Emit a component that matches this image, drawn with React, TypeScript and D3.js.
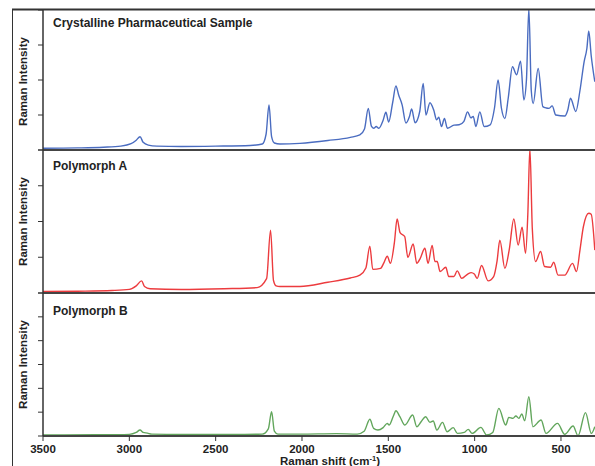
import React from "react";
import * as d3 from "d3";

// ---------- data (wavenumber cm-1, intensity in panel tick units) ----------
const panelTitles = ["Crystalline Pharmaceutical Sample", "Polymorph A", "Polymorph B"];
const xTickValues = [3500, 3000, 2500, 2000, 1500, 1000, 500];

const crystallineSample: [number, number][] = [
  [3500, 0.05], [3300, 0.06], [3150, 0.08], [3050, 0.11], [2990, 0.18], [2960, 0.28], [2938, 0.38],
  [2920, 0.22], [2890, 0.14], [2840, 0.11], [2700, 0.1], [2500, 0.11], [2300, 0.13], [2230, 0.17],
  [2208, 0.45], [2191, 1.29], [2176, 0.38], [2160, 0.2], [2128, 0.17], [2012, 0.19], [1850, 0.27],
  [1720, 0.36], [1665, 0.43], [1638, 0.6], [1616, 1.19], [1598, 0.68], [1585, 0.62], [1570, 0.67],
  [1555, 0.62], [1530, 0.85], [1514, 1.08], [1498, 0.8], [1475, 1.35], [1456, 1.83], [1440, 1.57],
  [1420, 1.29], [1398, 0.77], [1378, 0.95], [1365, 1.17], [1345, 0.78], [1318, 1.1], [1298, 1.9],
  [1282, 1.0], [1259, 1.35], [1237, 1.14], [1220, 0.86], [1208, 0.94], [1192, 0.67], [1175, 0.9],
  [1158, 0.62], [1120, 0.71], [1090, 0.72], [1062, 0.82], [1041, 1.09], [1022, 0.92], [1008, 0.96],
  [993, 0.67], [970, 1.09], [945, 0.67], [910, 0.72], [885, 1.2], [864, 2.0], [845, 1.2], [825, 0.9],
  [805, 1.5], [781, 2.38], [757, 2.15], [734, 2.54], [715, 1.43], [700, 2.0], [686, 4.05], [672, 1.7],
  [661, 1.33], [632, 2.33], [605, 1.24], [585, 1.2], [569, 1.19], [551, 1.26], [530, 1.0], [478, 0.97],
  [460, 1.15], [445, 1.48], [414, 1.1], [390, 1.7], [366, 2.52], [350, 2.9], [339, 3.4], [325, 2.7],
  [304, 1.95],
];

const polymorphA: [number, number][] = [
  [3500, 0.04], [3300, 0.05], [3100, 0.07], [3000, 0.1], [2960, 0.2], [2929, 0.34], [2912, 0.18],
  [2880, 0.12], [2700, 0.1], [2450, 0.12], [2260, 0.15], [2205, 0.4], [2182, 1.76], [2165, 0.35],
  [2150, 0.2], [2128, 0.18], [2012, 0.18], [1850, 0.3], [1720, 0.42], [1665, 0.5], [1630, 0.7],
  [1607, 1.31], [1590, 0.66], [1545, 0.69], [1525, 0.85], [1506, 1.03], [1488, 0.83], [1465, 1.4],
  [1449, 2.07], [1432, 1.69], [1405, 1.58], [1387, 1.0], [1356, 1.37], [1335, 0.83], [1315, 0.97],
  [1288, 1.25], [1270, 0.83], [1246, 1.33], [1230, 0.88], [1217, 0.88], [1200, 0.6], [1167, 0.72],
  [1150, 0.46], [1120, 0.46], [1101, 0.62], [1075, 0.41], [1040, 0.53], [1020, 0.57], [1002, 0.53],
  [985, 0.41], [960, 0.77], [922, 0.34], [890, 0.46], [870, 0.9], [854, 1.48], [825, 0.69], [800, 1.2],
  [773, 2.07], [748, 1.34], [725, 1.84], [705, 1.11], [692, 2.2], [680, 4.05], [666, 1.8], [647, 0.88],
  [618, 1.16], [595, 0.74], [560, 0.72], [542, 0.86], [517, 0.5], [478, 0.5], [433, 0.83], [410, 0.6],
  [390, 1.2], [370, 1.86], [339, 2.23], [325, 2.2], [304, 1.2],
];

const polymorphB: [number, number][] = [
  [3500, 0.04], [3200, 0.05], [3000, 0.07], [2960, 0.15], [2938, 0.25], [2920, 0.15], [2895, 0.12],
  [2870, 0.08], [2700, 0.06], [2400, 0.06], [2230, 0.08], [2195, 0.3], [2176, 1.02], [2160, 0.2],
  [2140, 0.08], [2012, 0.08], [1800, 0.1], [1680, 0.08], [1640, 0.2], [1607, 0.7], [1585, 0.32],
  [1560, 0.25], [1530, 0.35], [1506, 0.53], [1495, 0.46], [1470, 0.85], [1456, 1.06], [1433, 0.81],
  [1404, 0.46], [1359, 0.88], [1335, 0.39], [1310, 0.6], [1284, 0.81], [1259, 0.57], [1240, 0.63],
  [1219, 0.25], [1186, 0.57], [1160, 0.18], [1124, 0.35], [1100, 0.11], [1060, 0.15], [1037, 0.28],
  [1015, 0.11], [964, 0.36], [930, 0.04], [895, 0.15], [860, 1.16], [820, 0.46], [802, 0.78],
  [778, 0.74], [761, 0.84], [744, 0.74], [727, 0.92], [710, 0.64], [686, 1.65], [663, 0.39],
  [615, 0.67], [587, 0.11], [520, 0.53], [478, 0.07], [430, 0.42], [401, 0.01], [358, 0.98],
  [324, 0.11], [304, 0.39],
];

const seriesList = [crystallineSample, polymorphA, polymorphB];
const seriesColors = ["#4a6cc0", "#ec3b3e", "#62a65c"];

// ---------- layout ----------
const W = 595;
const H = 466;
const X0 = 43;
const X1 = 595.5;
const panels = [
  { top: 10, bottom: 150, yMax: 4 },
  { top: 150, bottom: 293, yMax: 4 },
  { top: 293, bottom: 436, yMax: 6 },
];
const FONT = "'Liberation Sans', Arial, Helvetica, sans-serif";

export default function App() {
  const x = d3.scaleLinear().domain([3500, 300]).range([X0, X1]);
  const bottom = panels[panels.length - 1].bottom;

  return (
    <svg
      width={W}
      height={H}
      viewBox={`0 0 ${W} ${H}`}
      style={{ position: "absolute", left: 0, top: 0, background: "#fff" }}
      fontFamily={FONT}
    >
      <defs>
        {panels.map((p, i) => (
          <clipPath id={`clip${i}`} key={i}>
            <rect x={X0} y={p.top} width={X1 - X0} height={p.bottom - p.top} />
          </clipPath>
        ))}
      </defs>

      {panels.map((p, i) => {
        const y = d3.scaleLinear().domain([0, p.yMax]).range([p.bottom, p.top]);
        const line = d3
          .line<[number, number]>()
          .x((d) => x(d[0]))
          .y((d) => y(d[1]))
          .curve(d3.curveMonotoneX);
        const ticks = d3.range(0, p.yMax + 1);
        const cy = (p.top + p.bottom) / 2;
        return (
          <g key={i}>
            <path
              d={line(seriesList[i]) || ""}
              fill="none"
              stroke={seriesColors[i]}
              strokeWidth={1.4}
              strokeLinejoin="round"
              clipPath={`url(#clip${i})`}
            />
            {ticks.map((t) => (
              <line key={t} x1={X0 - 5} x2={X0} y1={y(t)} y2={y(t)} stroke="#333" strokeWidth={1} />
            ))}
            <text x={53} y={p.top + (i === 0 ? 16.5 : i === 1 ? 19.5 : 21.5)} fontSize={12} fontWeight="bold" fill="#222">
              {panelTitles[i]}
            </text>
            <text
              transform={`translate(26.5, ${cy + (i === 0 ? 1.5 : 0)}) rotate(-90)`}
              textAnchor="middle"
              fontSize={11.5}
              fontWeight="bold"
              fill="#222"
            >
              Raman Intensity
            </text>
          </g>
        );
      })}

      {/* panel separators */}
      {panels.map((p, i) => (
        <line key={`sep${i}`} x1={X0} x2={W} y1={p.bottom} y2={p.bottom} stroke="#444" strokeWidth={2} />
      ))}
      {/* outer frame */}
      <line x1={12} x2={W} y1={9.5} y2={9.5} stroke="#333" strokeWidth={1.8} />
      <line x1={12.5} x2={12.5} y1={9} y2={H} stroke="#333" strokeWidth={1} />
      {/* y axis line */}
      <line x1={X0} x2={X0} y1={10} y2={bottom} stroke="#333" strokeWidth={1.5} />

      {/* x axis ticks and labels */}
      {xTickValues.map((v) => (
        <g key={v}>
          <line x1={x(v)} x2={x(v)} y1={bottom} y2={bottom + 5} stroke="#333" strokeWidth={1} />
          <text x={x(v)} y={452.5} textAnchor="middle" fontSize={11.5} fontWeight="bold" fill="#222">
            {v}
          </text>
        </g>
      ))}
      <text x={330} y={465} textAnchor="middle" fontSize={11.5} fontWeight="bold" fill="#222">
        Raman shift (cm
        <tspan dy={-4} fontSize={7.5}>-1</tspan>
        <tspan dy={4}>)</tspan>
      </text>
    </svg>
  );
}
